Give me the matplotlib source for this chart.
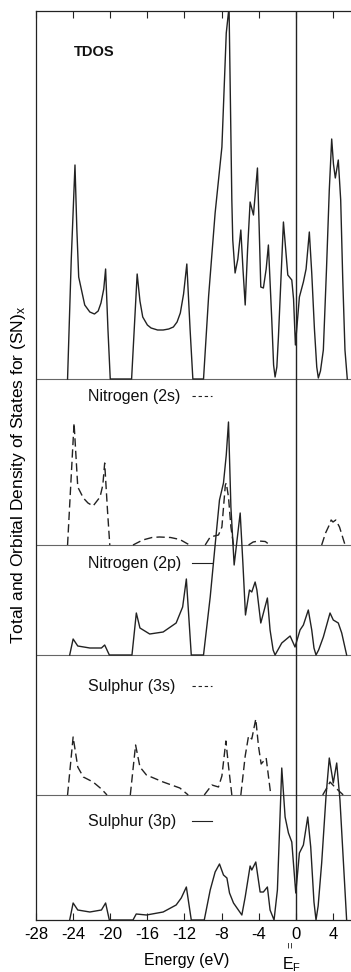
import numpy as np
import matplotlib
matplotlib.use("Agg")
import matplotlib.pyplot as plt

plt.rcParams['font.family'] = ['Liberation Sans', 'DejaVu Sans']
plt.rcParams['mathtext.default'] = 'regular'
plt.rcParams['axes.unicode_minus'] = False

nan = np.nan

# ------------------ datos (energia en eV, DOS en unidades arbitrarias) ------------------

tdos_e = [-24.6, -24.2, -23.8, -23.6, -23.4, -22.75, -22.2, -21.7, -21.3, -21.0, -20.7, -20.5, -20.25, -20.0,
          -17.7, -17.3, -17.1, -16.8, -16.5, -16.0, -15.6, -14.9, -14.3, -13.7, -13.2, -12.8, -12.45, -12.1,
          -11.75, -11.4, -11.1,
          -9.95, -9.4, -8.7, -7.97, -7.5, -7.2, -6.9, -6.8, -6.55, -6.25, -5.93, -5.7, -5.46, -5.2, -4.93,
          -4.57, -4.14, -3.95, -3.78, -3.5, -3.2, -2.96, -2.6, -2.4, -2.24, -2.05, -1.88, -1.34, -0.87, -0.44,
          -0.25, -0.05, 0.38, 0.81, 1.1, 1.45, 1.71, 2.0, 2.25, 2.42, 2.65, 2.96, 3.3, 3.6, 3.86, 4.05, 4.25,
          4.57, 4.83, 5.05, 5.29, 5.54]
tdos_v = [0, 120, 214, 150, 102, 74, 67, 65, 68, 76, 90, 110, 50, 0,
          0, 70, 105, 78, 62, 54, 51, 49, 49, 50, 52, 57, 66, 85,
          115, 50, 0,
          0, 83, 166, 232, 346, 372, 179, 139, 106, 120, 149, 110, 74, 130, 177,
          164, 211, 150, 92, 91, 110, 134, 60, 14, 2, 12, 42, 157, 104, 99,
          80, 34, 82, 97, 110, 147, 106, 50, 12, 1, 8, 29, 110, 189, 240, 215, 201,
          219, 179, 100, 29, 0]

n2s_e = [-24.6, -23.9, -23.5, -22.9, -22.4, -21.85, -21.1, -20.8, -20.6, -20.3, -20.05, nan,
         -17.55, -16.5, -15.5, -14.7, -13.5, -12.5, -11.45, nan,
         -9.77, -9.23, -8.34, -7.97, -7.6, -7.5, -7.26, -7.0, -6.72, nan,
         -5.1, -4.6, -4.0, -3.3, -2.8, nan,
         2.78, 3.2, 3.6, 3.8, 4.0, 4.3, 4.7, 5.3]
n2s_v = [0, 122, 58, 47, 42, 39, 48, 60, 82, 35, 0, nan,
         0, 5, 7.5, 8, 7.5, 5.5, 0, nan,
         0, 8, 10, 18, 60, 62, 48, 18, 0, nan,
         0, 3, 4, 3.5, 0, nan,
         0, 12, 20, 25, 23, 25, 18, 0]

n2p_e = [-24.37, -24.0, -23.5, -22.2, -20.95, -20.6, -20.1, -17.66, -17.19, -16.8, -15.75, -14.3,
         -12.9, -12.2, -11.8, -11.27, -9.95, -9.23, -8.7, -8.23, -7.8, -7.5, -7.26, -7.0, -6.65,
         -6.0, -5.71, -5.43, -5.0, -4.75, -4.39, -4.2, -3.78, -3.07, -2.78, -2.45, -2.24, -2.0, -1.52,
         -0.62, -0.09, 0.45, 0.81, 1.34, 1.71, 1.95, 2.17, 2.45, 2.96, 3.68, 4.03, 4.57, 4.94, 5.47]
n2p_v = [0, 16, 9, 7, 7, 10, 0, 0, 42, 27, 21, 23,
         32, 48, 76, 0, 0, 58, 110, 155, 172, 200, 233, 148, 90,
         142, 92, 40, 65, 63, 73, 65, 32, 57, 25, 5, 0, 4, 12,
         19, 8, 25, 30, 45, 25, 7, 0, 5, 18, 42, 35, 32, 22, 0]

s3s_e = [-24.6, -24.0, -23.5, -22.9, -21.85, -20.95, -20.35, nan,
         -17.84, -17.27, -16.8, -16.1, -14.3, -12.5, -11.6, nan,
         -9.87, -9.05, -8.34, -7.97, -7.54, -7.26, -6.9, nan,
         -5.93, -5.46, -5.1, -4.75, -4.32, -4.03, -3.74, -3.2, -2.7, nan,
         2.89, 3.39, 3.68, 4.3, 5.11]
s3s_v = [0, 58, 28, 18, 13, 6, 0, nan,
         0, 50, 28, 20, 13, 7, 0, nan,
         0, 10, 8, 19, 54, 29, 0, nan,
         0, 39, 59, 56, 76, 49, 31, 37, 0, nan,
         0, 8, 13, 7, 0]

s3p_e = [-24.37, -24.0, -23.5, -22.2, -20.95, -20.5, -20.1, -17.55, -17.2, -16.1, -14.3, -12.9,
         -12.35, -11.8, -11.27, -9.87, -9.23, -8.7, -8.23, -7.8, -7.43, -7.15, -6.72, -5.82,
         -5.46, -4.93, -4.75, -4.32, -3.85, -3.5, -3.07, -2.78, -2.35, -1.99, -1.52, -1.16,
         -0.8, -0.44, -0.01, 0.38, 0.81, 1.28, 1.6, 1.95, 2.17, 2.4, 2.78, 3.25, 3.6, 4.03, 4.4,
         4.75, 5.47]
s3p_v = [0, 17, 10, 8, 10, 17, 0, 0, 6, 5, 8, 15,
         22, 33, 0, 0, 30, 48, 56, 45, 42, 27, 17, 5,
         23, 54, 50, 58, 28, 28, 33, 10, 0, 30, 152, 103,
         87, 78, 27, 67, 75, 103, 73, 18, 0, 14, 57, 124, 162, 137, 157,
         120, 0]

ticks = [-28, -24, -20, -16, -12, -8, -4, 0, 4]
tick_labels = ['-28', '-24', '-20', '-16', '-12', '-8', '-4', '0', '4']

# ------------------ figura ------------------

W, H = 351, 972
fig = plt.figure(figsize=(W / 100, H / 100), dpi=100)
ax = fig.add_axes([36 / W, 1 - 920 / H, 315 / W, 909 / H])

ink = '#222222'
base_col = '#666666'
lw = 1.0
dash = (0, (6, 3))

# desplazamiento vertical de cada panel (pixeles)
offsets = {'tdos': 541, 'n2s': 375, 'n2p': 265, 's3s': 125, 's3p': 0}

for off in offsets.values():
    if off > 0:
        ax.axhline(off, color=base_col, lw=0.8, zorder=1)

ax.plot(tdos_e, np.array(tdos_v) + offsets['tdos'], color=ink, lw=lw)
ax.plot(n2s_e, np.array(n2s_v) + offsets['n2s'], color=ink, lw=lw, ls=dash)
ax.plot(n2p_e, np.array(n2p_v) + offsets['n2p'], color=ink, lw=lw)
ax.plot(s3s_e, np.array(s3s_v) + offsets['s3s'], color=ink, lw=lw, ls=dash)
ax.plot(s3p_e, np.array(s3p_v) + offsets['s3p'], color=ink, lw=lw)

ax.axvline(0, color=ink, lw=lw)

ax.set_xlim(-28, 5.94)
ax.set_ylim(0, 909)
ax.set_yticks([])
ax.set_xticks(ticks)
ax.set_xticklabels(tick_labels, fontsize=12)
ax.tick_params(axis='x', direction='in', top=True, bottom=True, length=5,
               width=0.8, color=ink, pad=5)
for side in ['left', 'top', 'bottom']:
    ax.spines[side].set_color(ink)
    ax.spines[side].set_linewidth(0.9)
ax.spines['right'].set_visible(False)

# etiquetas de paneles
ax.text(-23.97, 868, 'TDOS', fontsize=10.5, fontweight='bold', va='center', color='#111')
labels = [('Nitrogen (2s)', 524, dash), ('Nitrogen (2p)', 357, '-'),
          ('Sulphur (3s)', 234, dash), ('Sulphur (3p)', 99, '-')]
for txt, yy, style in labels:
    ax.text(-22.35, yy, txt, fontsize=11.5, va='center', color='#111')
    ax.plot([-11.15, -9.0], [yy, yy], color=ink, lw=0.8,
            ls=(0, (3, 2.5)) if style != '-' else '-')

fig.text(0.532, 0.012, 'Energy (eV)', fontsize=11.5, ha='center', va='center')
fig.text(0.832, 0.028, '=', fontsize=8, ha='center', va='center', rotation=90)
fig.text(0.832, 0.008, 'E$_F$', fontsize=11.5, ha='center', va='center')
fig.text(0.053, 0.512, 'Total and Orbital Density of States for (SN)$_x$', fontsize=12.5,
         ha='center', va='center', rotation=90)

fig.savefig('out.png', dpi=100)
